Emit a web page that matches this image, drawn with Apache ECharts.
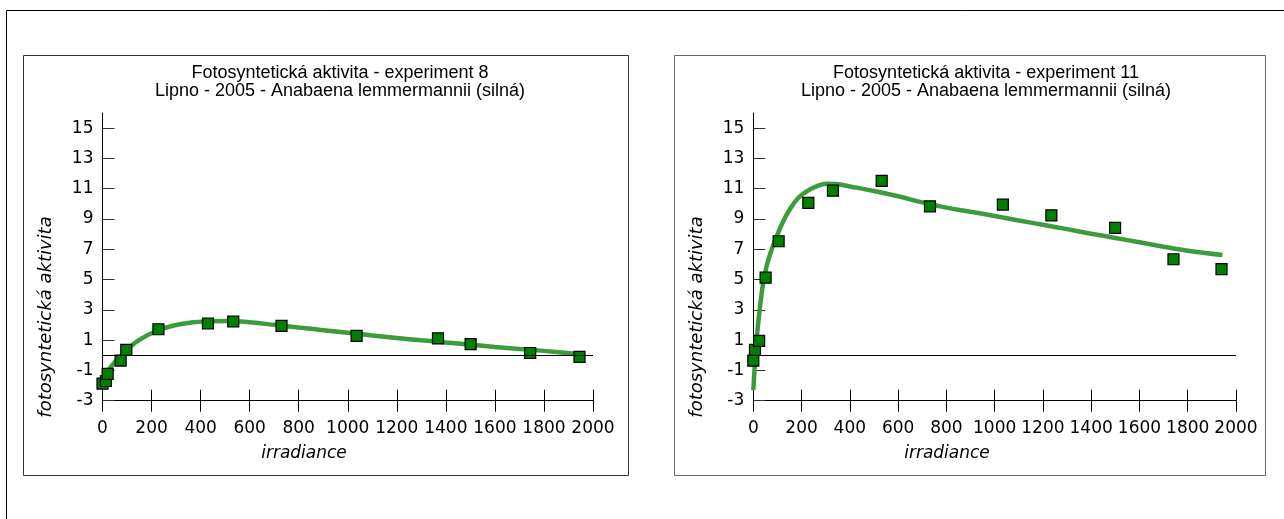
<!DOCTYPE html>
<html>
<head>
<meta charset="utf-8">
<script src="https://cdn.jsdelivr.net/npm/echarts@6/dist/echarts.min.js"></script>
<style>
  html, body { margin: 0; background: #fff; }
  #chart { width: 1284px; height: 519px; }
</style>
</head>
<body>
<div id="chart"></div>
<script>
'use strict';

// experiment 8 - measured points
var exp8X = [0, 14, 21, 74, 97, 228, 430, 533, 730, 1036, 1368, 1501, 1744, 1945];
var exp8Y = [-1.87, -1.70, -1.23, -0.35, 0.35, 1.72, 2.10, 2.23, 1.94, 1.28, 1.12, 0.73, 0.15, -0.11];
// experiment 8 - fitted curve
var fit8X = [0, 20, 45, 72, 100, 150, 220, 290, 360, 430, 530, 600, 700, 800, 900, 1000, 1100, 1200, 1300, 1400, 1500, 1600, 1700, 1800, 1950];
var fit8Y = [-1.95, -1.12, -0.55, -0.08, 0.38, 1.02, 1.60, 1.97, 2.16, 2.24, 2.27, 2.18, 2.01, 1.83, 1.66, 1.49, 1.31, 1.14, 0.99, 0.85, 0.70, 0.55, 0.42, 0.29, 0.07];

// experiment 11 - measured points
var exp11X = [0, 7, 24, 51, 105, 228, 330, 532, 732, 1034, 1235, 1499, 1741, 1940];
var exp11Y = [-0.36, 0.36, 0.95, 5.13, 7.53, 10.06, 10.87, 11.52, 9.84, 9.95, 9.24, 8.42, 6.34, 5.69];
// experiment 11 - fitted curve
var fit11X = [0, 14, 28, 41, 55, 76, 97, 124, 152, 186, 221, 262, 304, 345, 400, 500, 600, 700, 800, 900, 1000, 1100, 1200, 1300, 1400, 1500, 1600, 1700, 1800, 1944];
var fit11Y = [-2.3, 1.04, 3.24, 4.78, 5.88, 6.98, 7.86, 8.85, 9.66, 10.39, 10.83, 11.16, 11.33, 11.31, 11.15, 10.85, 10.5, 10.1, 9.75, 9.48, 9.2, 8.9, 8.62, 8.33, 8.03, 7.75, 7.46, 7.17, 6.9, 6.62];

// tick labels
var yTicks = [-3, -1, 1, 3, 5, 7, 9, 11, 13, 15];

// texts
var titles = [
  'Fotosyntetická aktivita - experiment 8\nLipno - 2005 - Anabaena lemmermannii (silná)',
  'Fotosyntetická aktivita - experiment 11\nLipno - 2005 - Anabaena lemmermannii (silná)'
];
var xName = 'irradiance';
var yName = 'fotosyntetická aktivita';

function zip(xs, ys) {
  return xs.map(function(x, i) { return [x, ys[i]]; });
}

var chart = echarts.init(document.getElementById('chart'));

var tickFont = { fontFamily: 'DejaVu Sans', fontSize: 17, color: '#000' };

function plain(v) {
  return String(v);
}

function xAxes(gridIndex) {
  return [
    {
      type: 'value', gridIndex: gridIndex, position: 'bottom',
      min: 0, max: 2000, interval: 200,
      axisLine: { onZero: false, lineStyle: { color: '#000', width: 1 } },
      axisTick: { length: 11, lineStyle: { color: '#000', width: 1 } },
      axisLabel: Object.assign({ margin: 19, formatter: plain }, tickFont),
      splitLine: { show: false }
    },
    {
      type: 'value', gridIndex: gridIndex, position: 'bottom',
      min: 0, max: 2000, interval: 200,
      axisLine: { show: false, onZero: false },
      axisTick: { inside: true, length: 11, lineStyle: { color: '#000', width: 1 } },
      axisLabel: { show: false },
      splitLine: { show: false }
    }
  ];
}

function yAxis(gridIndex) {
  return {
    type: 'value', gridIndex: gridIndex,
    min: -3, max: 16,
    axisLine: { onZero: false, lineStyle: { color: '#000', width: 1 } },
    axisTick: { inside: true, length: 12, customValues: yTicks, lineStyle: { color: '#333', width: 1 } },
    axisLabel: Object.assign({ margin: 9, customValues: yTicks, formatter: plain }, tickFont),
    splitLine: { show: false }
  };
}

function curve(xIdx, yIdx, data) {
  return {
    type: 'line', xAxisIndex: xIdx, yAxisIndex: yIdx,
    data: data, showSymbol: false, smooth: 0.4,
    lineStyle: { color: '#3c9c3c', width: 4.5 },
    z: 2, silent: true,
    markLine: {
      silent: true, symbol: 'none', animation: false,
      label: { show: false },
      lineStyle: { color: '#000', width: 1, type: 'solid' },
      data: [{ yAxis: 0 }]
    }
  };
}

function points(xIdx, yIdx, data) {
  return {
    type: 'scatter', xAxisIndex: xIdx, yAxisIndex: yIdx,
    data: data, symbol: 'rect', symbolSize: 11,
    itemStyle: { color: '#008000', borderColor: '#000', borderWidth: 1.2, opacity: 1 },
    z: 3
  };
}

function frame(x, y, w, h, color) {
  return {
    type: 'rect', silent: true, z: -1,
    shape: { x: x, y: y, width: w, height: h },
    style: { fill: 'none', stroke: color, lineWidth: 1 }
  };
}

function label(text, x, y, font, rotate) {
  return {
    type: 'text', silent: true, x: x, y: y, rotation: rotate || 0,
    style: {
      text: text, font: font, fill: '#000',
      align: 'center', verticalAlign: rotate ? 'middle' : 'top', lineHeight: 18
    }
  };
}

var titleFont = '18px "Liberation Sans", Arial, sans-serif';
var nameFont = 'italic 17px "DejaVu Sans", sans-serif';
var yNameFont = 'italic 18px "DejaVu Sans", sans-serif';

chart.setOption({
  animation: false,
  backgroundColor: '#fff',
  grid: [
    { left: 102.5, top: 113, width: 490.5, height: 287.7 },
    { left: 753.3, top: 113, width: 482.7, height: 287.7 }
  ],
  xAxis: xAxes(0).concat(xAxes(1)),
  yAxis: [yAxis(0), yAxis(1)],
  series: [
    curve(0, 0, zip(fit8X, fit8Y)),
    points(0, 0, zip(exp8X, exp8Y)),
    curve(2, 1, zip(fit11X, fit11Y)),
    points(2, 1, zip(exp11X, exp11Y))
  ],
  graphic: [
    frame(6.5, 10.5, 1300, 520, '#000'),
    frame(23.5, 55.5, 605, 420, '#333'),
    frame(674.5, 55.5, 591, 420, '#666'),
    label(titles[0], 340, 64, titleFont),
    label(titles[1], 986, 64, titleFont),
    label(xName, 304, 445, nameFont),
    label(xName, 947, 445, nameFont),
    label(yName, 46, 317, yNameFont, Math.PI / 2),
    label(yName, 697, 317, yNameFont, Math.PI / 2)
  ]
});
</script>
</body>
</html>
